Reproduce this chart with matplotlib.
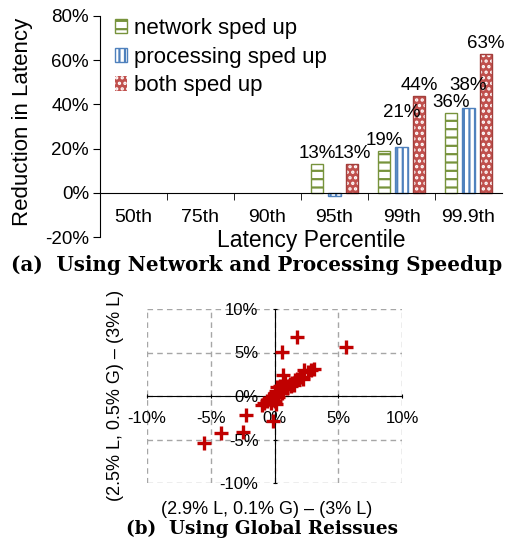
import matplotlib
matplotlib.use("Agg")
import matplotlib.pyplot as plt
import matplotlib.patches as mpatches
import numpy as np

plt.rcParams['font.family'] = ['Liberation Sans', 'DejaVu Sans']
plt.rcParams['hatch.linewidth'] = 1.6

# --- data: (a) latency reduction per percentile ---
percentiles = ['50th', '75th', '90th', '95th', '99th', '99.9th']
network = [0, 0, 0, 13, 19, 36]
processing = [0, 0, 0, -1.5, 20.5, 38.5]
both = [0, 0, 0, 13, 44, 63]
network_labels = [None, None, None, '13%', '19%', '36%']
processing_labels = [None, None, None, None, '21%', '38%']
both_labels = [None, None, None, '13%', '44%', '63%']

# --- data: (b) global reissues, difference in reduction ---
reissue_x = [5.6, 1.8, 0.6, -5.5, -4.2, -2.5, -2.2, -0.1, 0.7,
             2.9, 2.6, 2.3, 3.1, 2.0, 1.8, 1.6, 1.4, 1.2, 1.0, 0.9,
             0.7, 0.5, 0.3, 0.2, 0.0, -0.2, -0.4, -0.6, -0.8, -1.0,
             0.2, 0.4, 0.1, 0.0, 1.0, 1.3, 0.6, 0.3, -0.1, -0.3,
             0.1, 0.0, 0.8, 1.5, 2.2, 0.5]
reissue_y = [5.6, 6.8, 5.1, -5.4, -4.2, -4.1, -2.2, -2.9, 2.4,
             3.0, 2.8, 3.0, 3.1, 2.2, 2.0, 1.8, 1.5, 1.4, 1.2, 1.0,
             0.8, 0.6, 0.4, 0.2, 0.0, -0.2, -0.4, -0.6, -0.8, -1.0,
             1.0, 1.2, 0.6, 0.3, 0.9, 1.1, 0.3, -0.1, -0.5, -0.8,
             -0.9, -0.6, 1.6, 1.3, 1.9, 1.0]

NET_C = '#77933C'
PROC_C = '#4F81BD'
BOTH_C = '#C0504D'
W, H = 518, 542

fig = plt.figure(figsize=(W / 100, H / 100), dpi=100)

# ---------------- (a) bar chart ----------------
ax = fig.add_axes([100 / W, 1 - 237 / H, 402 / W, 221 / H])
x = np.arange(len(percentiles))
bw = 0.19
off = 0.26


def nz(vals):
    # zero-height bars are not drawn in the original
    idx = [i for i, v in enumerate(vals) if v != 0]
    return np.array(idx), [vals[i] for i in idx]


xi, nv = nz(network)
ax.bar(xi - off, nv, bw, color='white', edgecolor=NET_C, hatch='--', lw=1.0)
xi, pv = nz(processing)
ax.bar(xi, pv, bw, color='white', edgecolor=PROC_C, hatch='|||', lw=1.0)
xi, bv = nz(both)
ax.bar(xi + off, bv, bw, color=BOTH_C, edgecolor='none', lw=0)
ax.bar(xi + off, bv, bw, color='none', edgecolor='white', hatch='...', lw=0)
ax.bar(xi + off, bv, bw, color='none', edgecolor='#A33E3B', lw=1.0)

# value labels (a couple nudged upward as in the original)
extra = {(1, 4): 24, (1, 5): 12}
for s, (vals, labs, dx) in enumerate([(network, network_labels, -off),
                                       (processing, processing_labels, 0),
                                       (both, both_labels, off)]):
    for i, (v, lab) in enumerate(zip(vals, labs)):
        if lab is None:
            continue
        ax.annotate(lab, (i + dx, v), xytext=(0, 2 + extra.get((s, i), 0)),
                    textcoords='offset pixels', ha='center', va='bottom',
                    fontsize=13.5)

ax.set_xlim(-0.5, len(percentiles) - 0.5)
ax.set_ylim(-20, 80)
ax.set_yticks(range(-20, 81, 20))
ax.set_yticklabels([f'{v}%' for v in range(-20, 81, 20)])
ax.set_xticks(x)
ax.set_xticklabels(percentiles)
ax.set_xticks(x[:-1] + 0.5, minor=True)
ax.tick_params(axis='x', which='major', length=0, pad=12, labelsize=14)
ax.tick_params(axis='x', which='minor', length=5, direction='out')
ax.tick_params(axis='y', length=5, direction='out', pad=3, labelsize=13.5)
for sp in ['top', 'right']:
    ax.spines[sp].set_visible(False)
ax.spines['bottom'].set_position(('data', 0))

ax.set_xlabel('Latency Percentile', fontsize=16.5)
ax.xaxis.set_label_coords((311 - 100) / 402, (237 - 241) / 221)
ax.xaxis.label.set_va('center')
ax.set_ylabel('Reduction in Latency', fontsize=16)
ax.yaxis.set_label_coords((23 - 100) / 402, (237 - 122) / 221)
ax.yaxis.label.set_va('center')

h_net = mpatches.Patch(facecolor='white', edgecolor=NET_C, hatch='--', lw=1.0)
h_proc = mpatches.Patch(facecolor='white', edgecolor=PROC_C, hatch='|||', lw=1.0)
h_both = (mpatches.Patch(facecolor=BOTH_C, edgecolor='none'),
          mpatches.Patch(facecolor='none', edgecolor='white', hatch='...', lw=0))
ax.legend([h_net, h_proc, h_both],
          ['network sped up', 'processing sped up', 'both sped up'],
          loc='upper left', bbox_to_anchor=(15 / 402, 0.99), frameon=False,
          fontsize=16, handlelength=0.55, handleheight=0.6, handletextpad=0.3,
          labelspacing=0.34, borderpad=0, borderaxespad=0)

# ---------------- (b) scatter ----------------
bx = fig.add_axes([147 / W, 1 - 483 / H, 255 / W, 174 / H])
bx.plot(reissue_x, reissue_y, '+', color='#C00000', ms=10, mew=2.4, zorder=3)
bx.set_xlim(-10, 10)
bx.set_ylim(-10, 10)
ticks = [-10, -5, 0, 5, 10]
bx.set_xticks(ticks)
bx.set_yticks(ticks)
bx.set_xticklabels([f'{t}%' for t in ticks])
bx.set_yticklabels([f'{t}%' for t in ticks])
bx.tick_params(length=3, direction='inout', labelsize=12)
bx.tick_params(axis='x', pad=9)
bx.tick_params(axis='y', pad=10)
bx.grid(True, ls=(0, (4, 3)), color='#A6A6A6', lw=1.0)
for gl in bx.get_xgridlines() + bx.get_ygridlines():
    gl.set_clip_on(False)
bx.set_axisbelow(True)
for sp in ['top', 'right']:
    bx.spines[sp].set_visible(False)
bx.spines['left'].set_position(('data', 0))
bx.spines['bottom'].set_position(('data', 0))
for sp in ['left', 'bottom']:
    bx.spines[sp].set_zorder(2)

fig.text(267 / W, 1 - 510 / H, '(2.9% L, 0.1% G) \u2013 (3% L)', fontsize=13,
         ha='center', va='center')
fig.text(115 / W, 1 - 395 / H, '(2.5% L, 0.5% G) \u2013 (3% L)', fontsize=13,
         ha='center', va='center', rotation=90)

# captions
fig.text(257 / W, 1 - 265 / H, '(a)  Using Network and Processing Speedup',
         fontsize=14.3, family='DejaVu Serif', weight='bold', ha='center', va='center')
fig.text(262 / W, 1 - 529 / H, '(b)  Using Global Reissues',
         fontsize=13.2, family='DejaVu Serif', weight='bold', ha='center', va='center')

fig.savefig('out.png', dpi=100)
